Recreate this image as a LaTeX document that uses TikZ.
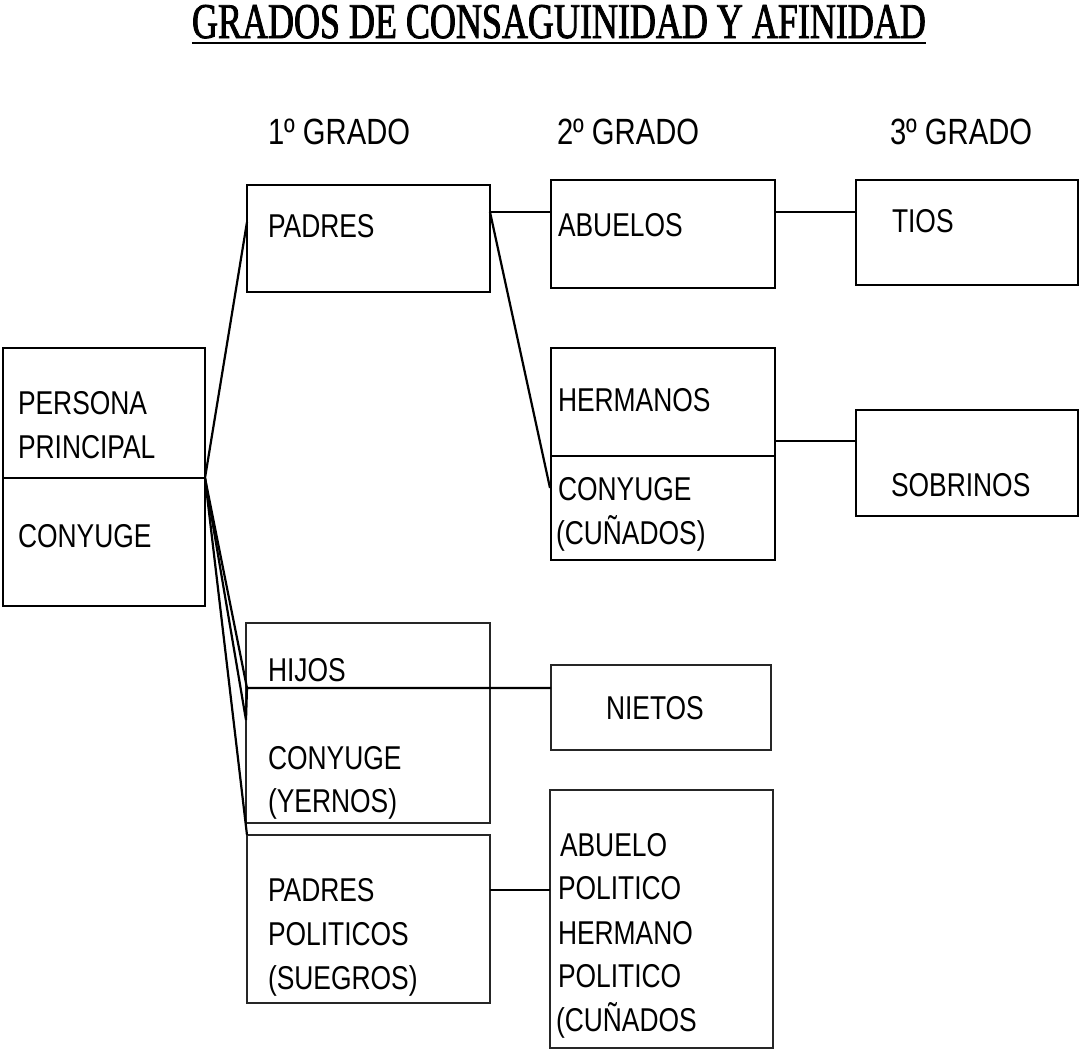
\documentclass[tikz,border=0pt]{standalone}
\usepackage{fontspec}
\newfontfamily\bodyfont[FakeStretch=0.8]{Liberation Sans}
\newfontfamily\titlefont[FakeStretch=0.72,FakeBold=1.6]{Liberation Serif}
\begin{document}
\begin{tikzpicture}[x=1pt,y=-1pt,
  box/.style={draw=black, line width=2.2pt, inner sep=0pt, outer sep=0pt},
  lbox/.style={draw=black!85, line width=1.4pt, inner sep=0pt, outer sep=0pt},
  conn/.style={draw=black, line width=2.2pt},
  lbl/.style={font=\bodyfont\fontsize{33}{40}\selectfont, anchor=base west, inner sep=0pt, outer sep=0pt},
  hdr/.style={font=\bodyfont\fontsize{36.5}{40}\selectfont, anchor=base west, inner sep=0pt, outer sep=0pt},
  ttl/.style={font=\titlefont\fontsize{50}{52}\selectfont, anchor=base, inner sep=0pt}]
\useasboundingbox (0,0) rectangle (1081,1050);
\fill[white] (0,0) rectangle (1081,1050);

% title
\node[ttl] (title) at (559,38) {GRADOS DE CONSAGUINIDAD Y AFINIDAD};
\draw[line width=2.4pt] (title.south west |- 0,43) -- (title.south east |- 0,43);

% headers
\node[hdr] (g1) at (268,144) {1º GRADO};
\node[hdr] (g2) at (557,144) {2º GRADO};
\node[hdr] (g3) at (890,144) {3º GRADO};

% boxes
\node[box, minimum width=202pt, minimum height=258pt] (pp) at (104,477) {};
\node[box, minimum width=243pt, minimum height=107pt] (padres) at (368.5,238.5) {};
\node[box, minimum width=224pt, minimum height=108pt] (abuelos) at (663,234) {};
\node[box, minimum width=222pt, minimum height=105pt] (tios) at (967,232.5) {};
\node[box, minimum width=224pt, minimum height=212pt] (herm) at (663,454) {};
\node[box, minimum width=222pt, minimum height=106pt] (sobr) at (967,463) {};
\node[lbox, minimum width=244pt, minimum height=200pt] (hijos) at (368,723) {};
\node[lbox, minimum width=220pt, minimum height=85pt] (nietos) at (661,707.5) {};
\node[lbox, minimum width=243pt, minimum height=168pt] (suegros) at (368.5,919) {};
\node[lbox, minimum width=223pt, minimum height=258pt] (abpol) at (661.5,919) {};

% dividers
\draw[conn] (pp.west |- 0,478) -- (pp.east |- 0,478);
\draw[conn] (herm.west |- 0,456) -- (herm.east |- 0,456);

% texts
\node[lbl] (t1) at (18,414) {PERSONA};
\node[lbl] (t2) at (18,458) {PRINCIPAL};
\node[lbl] (t3) at (18,547) {CONYUGE};
\node[lbl] (t4) at (268,237) {PADRES};
\node[lbl] (t5) at (558,236) {ABUELOS};
\node[lbl] (t6) at (892,232) {TIOS};
\node[lbl] (t7) at (558,411) {HERMANOS};
\node[lbl] (t8) at (558,500) {CONYUGE};
\node[lbl] (t9) at (556,544) {(CUÑADOS)};
\node[lbl] (t10) at (891,496) {SOBRINOS};
\node[lbl] (t11) at (268,681) {HIJOS};
\node[lbl] (t12) at (268,769) {CONYUGE};
\node[lbl] (t13) at (268,812) {(YERNOS)};
\node[lbl] (t14) at (606,719) {NIETOS};
\node[lbl] (t15) at (268,901) {PADRES};
\node[lbl] (t16) at (268,945) {POLITICOS};
\node[lbl] (t17) at (268,989) {(SUEGROS)};
\node[lbl] (t18) at (560,856) {ABUELO};
\node[lbl] (t19) at (558,899) {POLITICO};
\node[lbl] (t20) at (558,944) {HERMANO};
\node[lbl] (t21) at (558,987) {POLITICO};
\node[lbl] (t22) at (556,1031) {(CUÑADOS};

% connector points
\coordinate (jn) at (205,478);
\coordinate (padin) at (247,222);
\coordinate (padout) at (490,212);
\coordinate (abin) at (551,212);
\coordinate (about) at (775,212);
\coordinate (tiosin) at (856,212);
\coordinate (hermin) at (550,488);
\coordinate (hermout) at (775,441);
\coordinate (sobrin) at (856,441);
\coordinate (hv) at (246,720);
\coordinate (hl) at (247,688);
\coordinate (nietin) at (551,688);
\coordinate (sgout) at (490,890);
\coordinate (abpin) at (550,890);

% connectors
\draw[conn] (jn) -- (padin);
\draw[conn] (padout) -- (abin);
\draw[conn] (padout) -- (hermin);
\draw[conn] (about) -- (tiosin);
\draw[conn] (hermout) -- (sobrin);
\draw[conn] (jn) -- (hl);
\draw[conn] (jn) -- (hv) -- (hl) -- (nietin);
\draw[conn] (jn) -- (suegros.north west);
\draw[conn] (sgout) -- (abpin);
\end{tikzpicture}
\end{document}
